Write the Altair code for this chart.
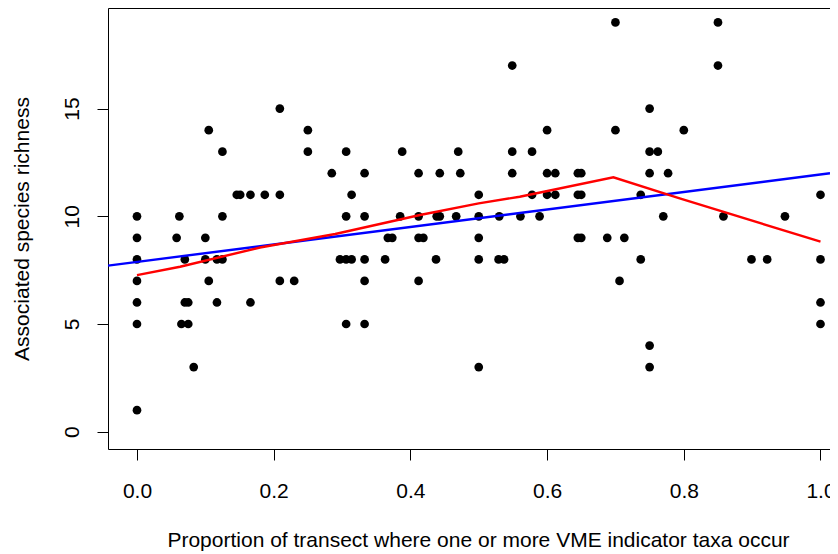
import altair as alt
import pandas as pd

# Scatter data: proportion of transect (x) and associated species richness (y)
prop = [
    0, 0, 0, 0, 0, 0, 0,
    0.058, 0.062, 0.065, 0.070, 0.070, 0.075, 0.075,
    0.083,
    0.1, 0.1,
    0.105, 0.105,
    0.117, 0.117,
    0.125, 0.125, 0.125,
    0.146, 0.151,
    0.166, 0.166,
    0.187,
    0.209, 0.209, 0.209,
    0.230,
    0.25, 0.25,
    0.285,
    0.297,
    0.306, 0.306, 0.306, 0.306,
    0.314, 0.314,
    0.333, 0.333, 0.333, 0.333, 0.333,
    0.363,
    0.367, 0.3735,
    0.385,
    0.388,
    0.412, 0.412, 0.412, 0.412,
    0.419,
    0.4375, 0.4385,
    0.443, 0.443,
    0.467,
    0.470,
    0.473,
    0.5, 0.5, 0.5, 0.5, 0.5,
    0.529, 0.530, 0.537,
    0.549, 0.549, 0.549,
    0.561,
    0.578, 0.578,
    0.589,
    0.6, 0.6, 0.6,
    0.612, 0.612,
    0.645, 0.645, 0.645,
    0.65, 0.65, 0.65,
    0.688,
    0.7, 0.7,
    0.706,
    0.713,
    0.737, 0.737,
    0.75, 0.75, 0.75, 0.75, 0.75,
    0.762,
    0.770,
    0.777,
    0.8,
    0.85, 0.85,
    0.858,
    0.899, 0.922,
    0.948,
    1.0, 1.0, 1.0, 1.0,
]
rich = [
    10, 9, 8, 7, 6, 5, 1,
    9, 10, 5, 8, 6, 6, 5,
    3,
    9, 8,
    14, 7,
    8, 6,
    13, 10, 8,
    11, 11,
    11, 6,
    11,
    15, 11, 7,
    7,
    14, 13,
    12,
    8,
    13, 10, 8, 5,
    11, 8,
    12, 10, 8, 7, 5,
    8,
    9, 9,
    10,
    13,
    12, 10, 9, 7,
    9,
    8, 10,
    12, 10,
    10,
    13,
    12,
    11, 10, 9, 8, 3,
    8, 10, 8,
    17, 13, 12,
    10,
    13, 11,
    10,
    14, 12, 11,
    12, 11,
    12, 11, 9,
    12, 11, 9,
    9,
    19, 14,
    7,
    9,
    11, 8,
    15, 13, 12, 4, 3,
    13,
    10,
    12,
    14,
    19, 17,
    10,
    8, 8,
    10,
    11, 8, 6, 5,
]

# Smoothed (lowess) curve, red
lowess_x = [0.0, 0.063, 0.18, 0.29, 0.414, 0.5, 0.56, 0.697, 0.794, 1.0]
lowess_y = [7.27, 7.66, 8.55, 9.18, 10.06, 10.6, 10.91, 11.81, 10.83, 8.82]

# Linear fit, blue (end points across the plot)
fit_x = [-0.0424, 1.0139]
fit_y = [7.71, 12.0]

x_ticks = [0.0, 0.2, 0.4, 0.6, 0.8, 1.0]
y_ticks = [0, 5, 10, 15]

pts_df = pd.DataFrame({"x": prop, "y": rich})
low_df = pd.DataFrame({"x": lowess_x, "y": lowess_y})
fit_df = pd.DataFrame({"x": fit_x, "y": fit_y})

FONT = "Liberation Sans"
W, H = 722, 441

xscale = alt.Scale(domain=[-0.0424, 1.0139], nice=False, zero=False)
yscale = alt.Scale(domain=[-0.803, 19.671], nice=False, zero=False)

x_axis = alt.Axis(
    values=x_ticks, format=".1f", tickSize=11, tickColor="#000",
    domainColor="#000", labelFontSize=21, labelFont=FONT, labelColor="#000",
    labelPadding=20, labelFlush=False, grid=False,
    title="Proportion of transect where one or more VME indicator taxa occur",
    titleFont=FONT, titleFontSize=21, titleFontWeight="normal", titleColor="#000",
    titleBaseline="alphabetic", titleAlign="center", titleX=370, titleY=97,
)
y_axis = alt.Axis(
    values=y_ticks, tickSize=11, tickColor="#000", domainColor="#000",
    labelFontSize=21, labelFont=FONT, labelColor="#000", labelAngle=270,
    labelAlign="center", labelBaseline="alphabetic", labelPadding=19, grid=False,
    title="Associated species richness", titleFont=FONT, titleFontSize=21,
    titleFontWeight="normal", titleColor="#000", titleAngle=270,
    titleBaseline="alphabetic", titleX=-80,
)
top_axis = alt.Axis(orient="top", labels=False, ticks=False, title=None,
                    domain=True, domainColor="#000", grid=False)

points = alt.Chart(pts_df).mark_circle(size=76, color="#000", opacity=1).encode(
    x=alt.X("x:Q", scale=xscale, axis=x_axis),
    y=alt.Y("y:Q", scale=yscale, axis=y_axis),
)
fit = alt.Chart(fit_df).mark_line(color="#0000ff", strokeWidth=2.4, clip=True).encode(
    x=alt.X("x:Q", scale=xscale, axis=top_axis),
    y=alt.Y("y:Q", scale=yscale),
)
lowess = alt.Chart(low_df).mark_line(color="#ff0000", strokeWidth=2.4, clip=True).encode(
    x=alt.X("x:Q", scale=xscale, axis=None),
    y=alt.Y("y:Q", scale=yscale),
)

chart = (
    alt.layer(points, fit, lowess)
    .resolve_axis(x="independent")
    .properties(
        width=W, height=H,
        autosize=alt.AutoSizeParams(type="none"),
        padding={"left": 100, "top": 0, "right": 0, "bottom": 104},
    )
    .configure_view(stroke=None)
)

chart.save("out.html", embed_options={"renderer": "svg", "actions": False})
